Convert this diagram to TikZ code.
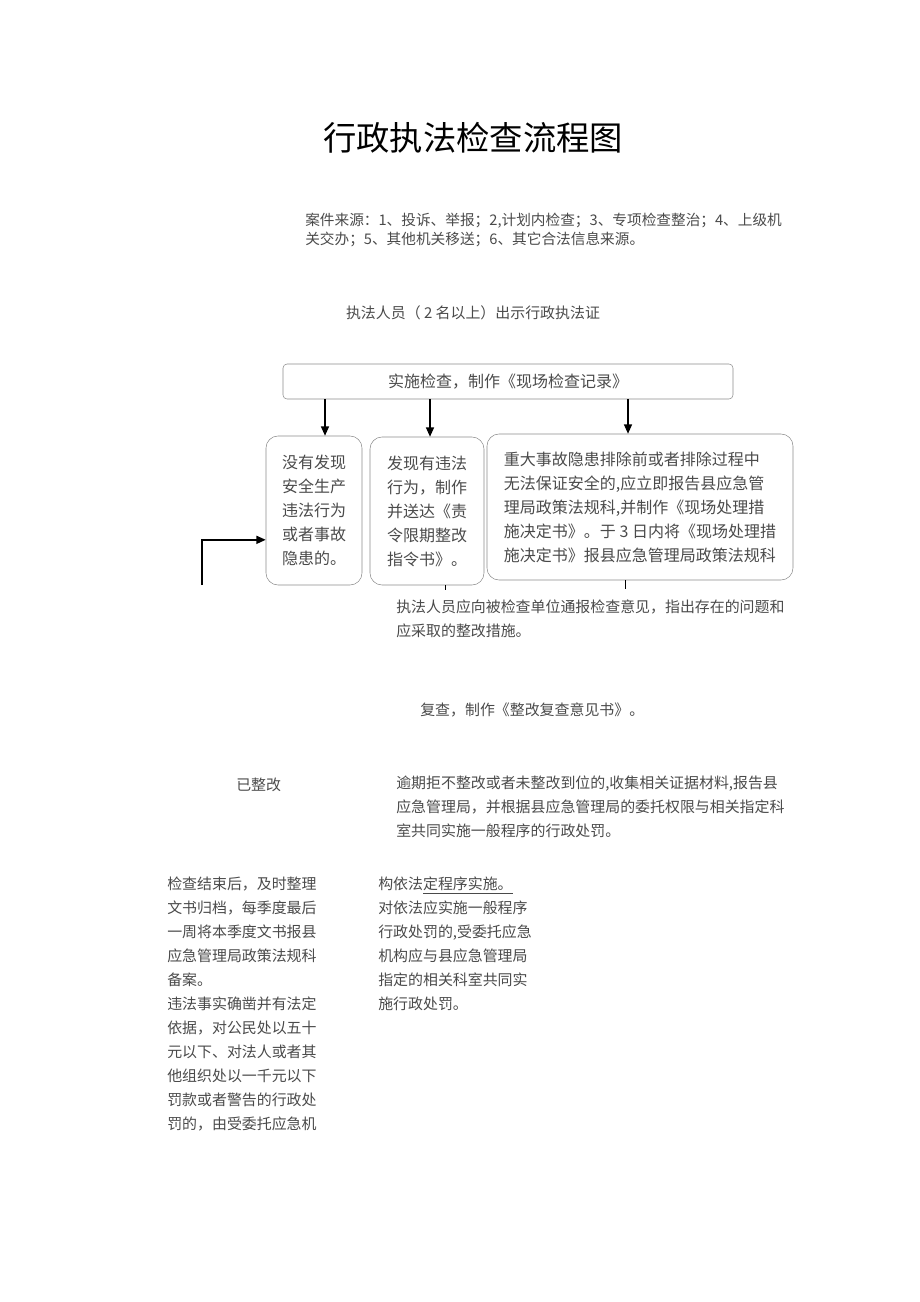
\documentclass[tikz,border=0pt]{standalone}
\usepackage{fontspec}
\newfontfamily\cjk{Noto Sans CJK SC}
\usetikzlibrary{arrows.meta}
\usepackage{xcolor}
\definecolor{TextGray}{HTML}{4A4A4A}
\definecolor{EdgeGray}{HTML}{8C8C8C}

\begin{document}
\begin{tikzpicture}[x=0.75pt,y=-0.75pt,
    txt/.style={inner sep=0pt,text=TextGray,align=left,
                font=\cjk\fontsize{11.2}{18}\selectfont},
    box/.style={draw=EdgeGray,rounded corners=9pt,text=TextGray,align=left,
                font=\cjk\fontsize{12}{18}\selectfont},
    arr/.style={-{Triangle[width=6pt,length=7pt]},line width=1.1pt}]
  \useasboundingbox (0,0) rectangle (920,1302);

  \node[font=\cjk\fontsize{25}{30}\selectfont] (title) at (473,138) {行政执法检查流程图};

  \node[txt,anchor=north west,font=\cjk\fontsize{11}{14.25}\selectfont]
    (source) at (305,213) {案件来源：1、投诉、举报；2,计划内检查；3、专项检查整治；4、上级机\\
                          关交办；5、其他机关移送；6、其它合法信息来源。};
  \node[txt] (badge) at (473,313) {执法人员（ 2 名以上）出示行政执法证};

  % inspection and the three outcomes
  \node[draw=EdgeGray,rounded corners=3pt,text=TextGray,
        font=\cjk\fontsize{12}{18}\selectfont,
        minimum width=337.5pt,minimum height=26.25pt]
    (insp) at (508,381.5) {实施检查，制作《现场检查记录》};
  \node[box,minimum width=72pt,minimum height=111.75pt] (none) at (314,510.5)
    {没有发现\\安全生产\\违法行为\\或者事故\\隐患的。};
  \node[box,minimum width=85.5pt,minimum height=111pt] (order) at (427,511)
    {发现有违法\\行为，制作\\并送达《责\\令限期整改\\指令书》。};
  \node[box,minimum width=229.5pt,minimum height=109.5pt] (danger) at (640,507)
    {重大事故隐患排除前或者排除过程中\\
     无法保证安全的,应立即报告县应急管\\
     理局政策法规科,并制作《现场处理措\\
     施决定书》。于 3 日内将《现场处理措\\
     施决定书》报县应急管理局政策法规科};

  \draw[arr] (insp.south -| 325,0) -- (none.north -| 325,0);
  \draw[arr] (insp.south -| 430,0) -- (order.north -| 430,0);
  \draw[arr] (insp.south -| 628,0) -- (danger.north -| 628,0);

  \coordinate (back) at (202,585);
  \draw[arr] (back) |- ([yshift=-22pt]none.west);
  \coordinate (orderout) at (445,590);
  \draw (order.south -| orderout) -- (orderout);
  \coordinate (dangerout) at (625,589);
  \draw (danger.south -| dangerout) -- (dangerout);

  % notes below
  \node[txt,anchor=north west] (notify) at (396,600)
    {执法人员应向被检查单位通报检查意见，指出存在的问题和\\应采取的整改措施。};
  \node[txt,anchor=west] (recheck) at (420,710) {复查，制作《整改复查意见书》。};
  \node[txt,anchor=west] (done) at (236,785) {已整改};
  \node[txt,anchor=north west] (overdue) at (396,776)
    {逾期拒不整改或者未整改到位的,收集相关证据材料,报告县\\
     应急管理局，并根据县应急管理局的委托权限与相关指定科\\
     室共同实施一般程序的行政处罚。};

  \node[txt,anchor=north west] (archive) at (167,877)
    {检查结束后，及时整理\\文书归档，每季度最后\\一周将本季度文书报县\\
     应急管理局政策法规科\\备案。\\违法事实确凿并有法定\\依据，对公民处以五十\\
     元以下、对法人或者其\\他组织处以一千元以下\\罚款或者警告的行政处\\
     罚的，由受委托应急机};
  \node[txt,anchor=north west] (general) at (378,877)
    {构依法\underline{定程序实施。}\\对依法应实施一般程序\\行政处罚的,受委托应急\\
     机构应与县应急管理局\\指定的相关科室共同实\\施行政处罚。};
\end{tikzpicture}
\end{document}
